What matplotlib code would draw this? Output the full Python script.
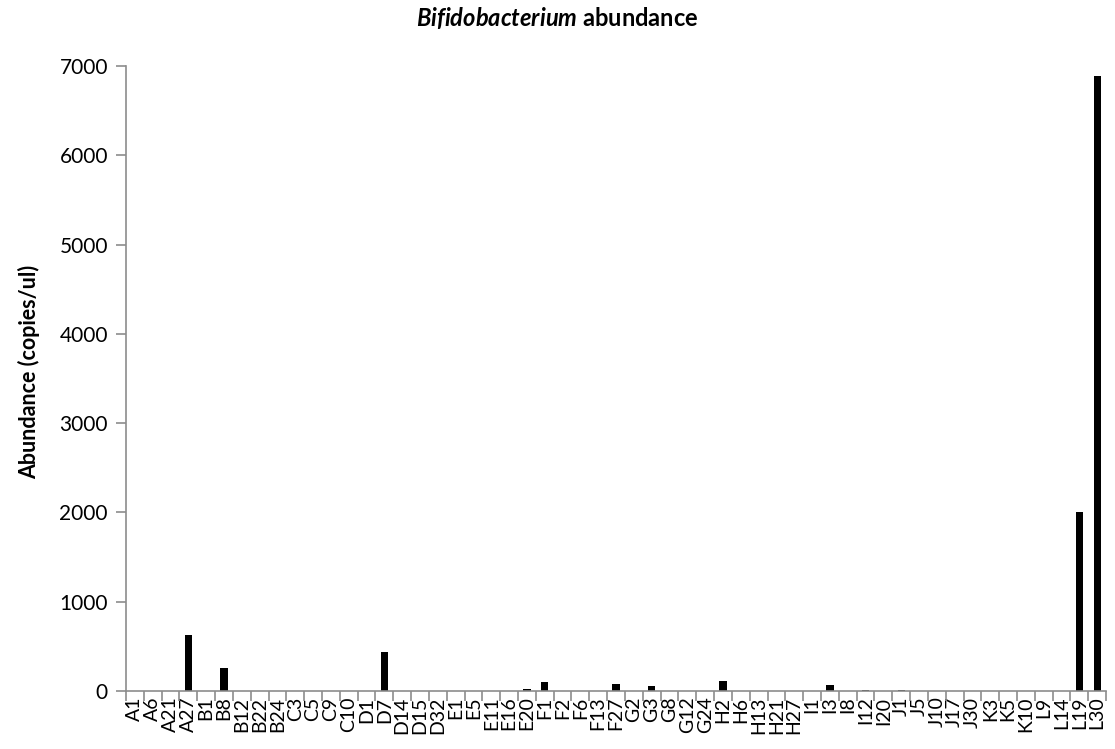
import numpy as np
import matplotlib
matplotlib.use("Agg")
import matplotlib.pyplot as plt
from matplotlib.ticker import FixedLocator

plt.rcParams['font.family'] = ['Lato', 'DejaVu Sans']
plt.rcParams['mathtext.fontset'] = 'custom'
plt.rcParams['mathtext.it'] = 'Lato:italic:bold'
plt.rcParams['mathtext.rm'] = 'Lato:bold'

# sample ids along the x axis
samples = ['A1', 'A6', 'A21', 'A27', 'B1', 'B8', 'B12', 'B22', 'B24', 'C3',
           'C5', 'C9', 'C10', 'D1', 'D7', 'D14', 'D15', 'D32', 'E1', 'E5',
           'E11', 'E16', 'E20', 'F1', 'F2', 'F6', 'F13', 'F27', 'G2', 'G3',
           'G8', 'G12', 'G24', 'H2', 'H6', 'H13', 'H21', 'H27', 'I1', 'I3',
           'I8', 'I12', 'I20', 'J1', 'J5', 'J10', 'J17', 'J30', 'K3', 'K5',
           'K10', 'L9', 'L14', 'L19', 'L30']

# abundance (copies/ul)
abundance = [0, 0, 0, 628, 0, 255, 0, 0, 0, 0,
             0, 0, 0, 0, 440, 0, 0, 0, 0, 0,
             0, 0, 20, 97, 0, 0, 0, 78, 0, 53,
             0, 0, 0, 112, 0, 0, 0, 0, 0, 71,
             0, 12, 0, 6, 0, 0, 0, 0, 0, 0,
             0, 0, 0, 2000, 6885]

yticks = [0, 1000, 2000, 3000, 4000, 5000, 6000, 7000]

fig = plt.figure(figsize=(11.15, 7.49), dpi=100)
ax = fig.add_axes([0.113, 0.0774, 0.879, 0.8345])

x = np.arange(len(samples))
ax.bar(x, abundance, width=0.41, color='black')

ax.set_xlim(-0.5, len(samples) - 0.5)
ax.set_ylim(0, 7000)
ax.set_yticks(yticks)
ax.set_yticklabels([str(v) for v in yticks], fontsize=15)

# labels under the categories, tick marks between them
ax.set_xticks(x)
ax.set_xticklabels(samples, rotation=90, fontsize=14)
ax.xaxis.set_minor_locator(FixedLocator(np.arange(len(samples) + 1) - 0.5))
ax.tick_params(axis='x', which='major', length=0, pad=4)
ax.tick_params(axis='x', which='minor', length=7, width=1.2, color='#8c8c8c')
ax.tick_params(axis='y', length=7, width=1.2, color='#8c8c8c', pad=6)

for side in ['top', 'right']:
    ax.spines[side].set_visible(False)
for side in ['left', 'bottom']:
    ax.spines[side].set_color('#8c8c8c')
    ax.spines[side].set_linewidth(1.2)

ax.set_ylabel('Abundance (copies/ul)', fontsize=15.5, fontweight='bold')
ax.yaxis.set_label_coords(-0.088, 0.51)
fig.text(0.5, 0.976, r'$\it{Bifidobacterium}$ abundance', ha='center', va='center',
         fontsize=17, fontweight='bold')

fig.savefig('out.png', dpi=100)
